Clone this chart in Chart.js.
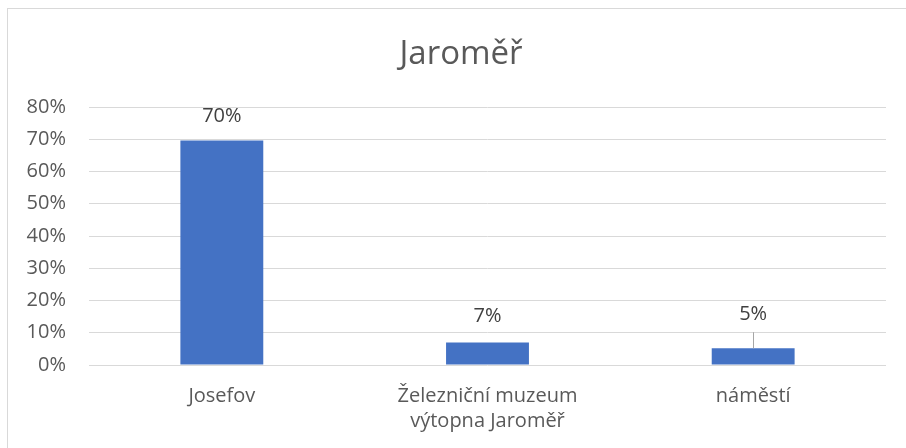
<!DOCTYPE html>
<html>
<head>
<meta charset="utf-8">
<script src="https://cdn.jsdelivr.net/npm/chart.js@4.4.0/dist/chart.umd.min.js"></script>
<style>
  html, body { margin: 0; padding: 0; background: #fff; }
  #wrap { width: 906px; height: 448px; position: relative; }
</style>
</head>
<body>
<div id="wrap"><canvas id="chart" width="906" height="448"></canvas></div>
<script>
const categories = ["Josefov", ["Železniční muzeum", "výtopna Jaroměř"], "náměstí"];
const shares = [0.696, 0.070, 0.052];
const tickValues = [0, 0.1, 0.2, 0.3, 0.4, 0.5, 0.6, 0.7, 0.8];
const chartTitle = 'Jaroměř';

const fontFamily = "'Open Sans', 'Noto Sans', sans-serif";

// frame around the whole chart (cut off at right and bottom) and the title
const frame = {
    id: 'frame',
    beforeDraw(chart) {
        const ctx = chart.ctx;
        ctx.save();
        ctx.strokeStyle = '#d9d9d9';
        ctx.lineWidth = 1;
        ctx.strokeRect(7.5, 8.5, 920, 460);
        ctx.font = '33px ' + fontFamily;
        ctx.fillStyle = '#595959';
        ctx.textAlign = 'center';
        ctx.textBaseline = 'alphabetic';
        ctx.fillText(chartTitle, 461, 64);
        ctx.restore();
    }
};

// value labels above bars, last one lifted with a leader line
const valueLabels = {
    id: 'valueLabels',
    afterDatasetsDraw(chart, args, opts) {
        const ctx = chart.ctx;
        const meta = chart.getDatasetMeta(0);
        ctx.save();
        ctx.font = '20px ' + fontFamily;
        ctx.fillStyle = '#404040';
        ctx.textAlign = 'center';
        ctx.textBaseline = 'middle';
        meta.data.forEach((bar, i) => {
            const lift = opts.lift[i] || 0;
            const y = bar.y - 24 - lift;
            ctx.fillText(Math.round(shares[i] * 100) + '%', bar.x, y);
            if (lift > 5) {
                ctx.strokeStyle = '#a6a6a6';
                ctx.lineWidth = 1;
                ctx.beginPath();
                ctx.moveTo(Math.round(bar.x) + 0.5, y + 18);
                ctx.lineTo(Math.round(bar.x) + 0.5, bar.y);
                ctx.stroke();
            }
        });
        ctx.restore();
    }
};

new Chart(document.getElementById('chart'), {
    type: 'bar',
    data: {
        labels: categories,
        datasets: [{
            data: shares,
            backgroundColor: '#4472c4',
            barPercentage: 0.312,
            categoryPercentage: 1
        }]
    },
    options: {
        responsive: false,
        animation: false,
        layout: { padding: { left: 0, right: 20, top: 107, bottom: 3 } },
        plugins: {
            legend: { display: false },
            tooltip: { enabled: false },
            title: { display: false },
            valueLabels: { lift: [0, 2, 10] }
        },
        scales: {
            x: {
                grid: { display: false },
                border: { display: false },
                ticks: {
                    color: '#595959',
                    font: { family: fontFamily, size: 20, lineHeight: 1.25 },
                    padding: 11,
                    maxRotation: 0
                }
            },
            y: {
                min: 0,
                max: 0.8,
                afterFit(axis) { axis.width = 89; },
                afterBuildTicks(axis) { axis.ticks = tickValues.map(v => ({ value: v })); },
                grid: { color: '#d9d9d9', lineWidth: 1, drawTicks: false },
                border: { display: false },
                ticks: {
                    color: '#595959',
                    font: { family: fontFamily, size: 20 },
                    padding: 23,
                    callback: v => Math.round(v * 100) + '%'
                }
            }
        }
    },
    plugins: [frame, valueLabels]
});
</script>
</body>
</html>
